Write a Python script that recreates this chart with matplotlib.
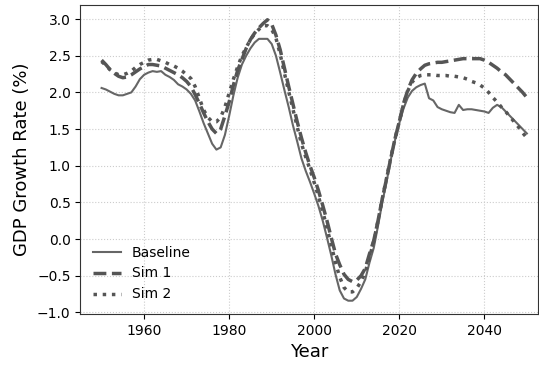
import numpy as np
import matplotlib
matplotlib.use("Agg")
import matplotlib.pyplot as plt

# Years covered by all three series
years = list(range(1950, 2051))

# GDP growth rate (%), one value per year
baseline = [
    2.06, 2.04, 2.01, 1.98, 1.96, 1.96, 1.98, 2.00, 2.08, 2.18,   # 1950s
    2.24, 2.27, 2.29, 2.28, 2.29, 2.24, 2.21, 2.17, 2.11, 2.08,   # 1960s
    2.04, 1.98, 1.89, 1.74, 1.58, 1.44, 1.30, 1.22, 1.25, 1.42,   # 1970s
    1.68, 1.96, 2.20, 2.38, 2.50, 2.60, 2.68, 2.73, 2.73, 2.73,   # 1980s
    2.66, 2.50, 2.27, 2.03, 1.80, 1.55, 1.33, 1.10, 0.93, 0.78,   # 1990s
    0.62, 0.45, 0.25, 0.02, -0.22, -0.48, -0.70, -0.81, -0.84, -0.84,  # 2000s
    -0.79, -0.68, -0.55, -0.32, -0.12, 0.18, 0.50, 0.78, 1.08, 1.35,   # 2010s
    1.58, 1.78, 1.93, 2.02, 2.07, 2.10, 2.12, 1.92, 1.89, 1.80,   # 2020s
    1.77, 1.75, 1.73, 1.72, 1.83, 1.76, 1.77, 1.77, 1.76, 1.75,   # 2030s
    1.74, 1.72, 1.79, 1.83, 1.80, 1.74, 1.68, 1.62, 1.56, 1.50,   # 2040s
    1.44,
]

sim1 = [
    2.44, 2.38, 2.31, 2.26, 2.22, 2.20, 2.21, 2.24, 2.28, 2.32,
    2.35, 2.38, 2.38, 2.37, 2.36, 2.33, 2.30, 2.27, 2.24, 2.20,
    2.15, 2.08, 1.97, 1.85, 1.72, 1.60, 1.50, 1.44, 1.50, 1.68,
    1.87, 2.10, 2.30, 2.45, 2.60, 2.72, 2.81, 2.88, 2.94, 2.99,
    2.93, 2.78, 2.58, 2.33, 2.08, 1.84, 1.60, 1.38, 1.18, 1.00,
    0.84, 0.66, 0.46, 0.25, 0.02, -0.20, -0.35, -0.48, -0.55, -0.58,
    -0.56, -0.50, -0.40, -0.20, -0.02, 0.25, 0.55, 0.82, 1.10, 1.37,
    1.60, 1.85, 2.03, 2.17, 2.26, 2.32, 2.37, 2.39, 2.40, 2.41,
    2.41, 2.42, 2.43, 2.44, 2.45, 2.46, 2.46, 2.46, 2.46, 2.46,
    2.44, 2.41, 2.37, 2.33, 2.28, 2.24, 2.18, 2.12, 2.06, 2.00,
    1.93,
]

sim2 = [
    2.42, 2.37, 2.31, 2.27, 2.24, 2.24, 2.26, 2.29, 2.34, 2.38,
    2.41, 2.44, 2.45, 2.45, 2.43, 2.41, 2.38, 2.36, 2.33, 2.29,
    2.24, 2.19, 2.08, 1.92, 1.76, 1.66, 1.60, 1.60, 1.66, 1.80,
    1.99, 2.18, 2.35, 2.50, 2.61, 2.72, 2.80, 2.86, 2.91, 2.91,
    2.86, 2.74, 2.52, 2.26, 2.01, 1.77, 1.53, 1.30, 1.12, 0.95,
    0.77, 0.58, 0.38, 0.15, -0.08, -0.32, -0.52, -0.66, -0.72, -0.72,
    -0.67, -0.58, -0.45, -0.25, -0.03, 0.25, 0.55, 0.83, 1.11, 1.37,
    1.60, 1.84, 2.02, 2.14, 2.20, 2.23, 2.24, 2.24, 2.24, 2.23,
    2.23, 2.23, 2.22, 2.22, 2.21, 2.20, 2.18, 2.15, 2.13, 2.10,
    2.06, 2.00, 1.93, 1.87, 1.80, 1.74, 1.67, 1.60, 1.53, 1.45,
    1.38,
]

fig = plt.figure(figsize=(5.39, 3.65), dpi=100)
ax = fig.add_axes([0.149, 0.140, 0.849, 0.846])

ax.plot(years, baseline, color='#666666', lw=1.5, ls='-', label='Baseline')
ax.plot(years, sim1, color='#555555', lw=2.5, ls='--', label='Sim 1')
ax.plot(years, sim2, color='#555555', lw=2.5, ls=':', label='Sim 2')

ax.set_xlim(1945, 2052.6)
ax.set_ylim(-1.02, 3.19)
ax.set_xticks([1960, 1980, 2000, 2020, 2040])
ax.set_yticks(np.arange(-1.0, 3.01, 0.5))

ax.grid(True, ls=':', color='#cccccc', lw=0.8)
ax.tick_params(labelsize=10)
for s in ax.spines.values():
    s.set_color('#333333')

ax.set_xlabel('Year', fontsize=13)
ax.set_ylabel('GDP Growth Rate (%)', fontsize=13)
ax.legend(loc='lower left', frameon=False, fontsize=10)

fig.savefig('out.png', dpi=100)
